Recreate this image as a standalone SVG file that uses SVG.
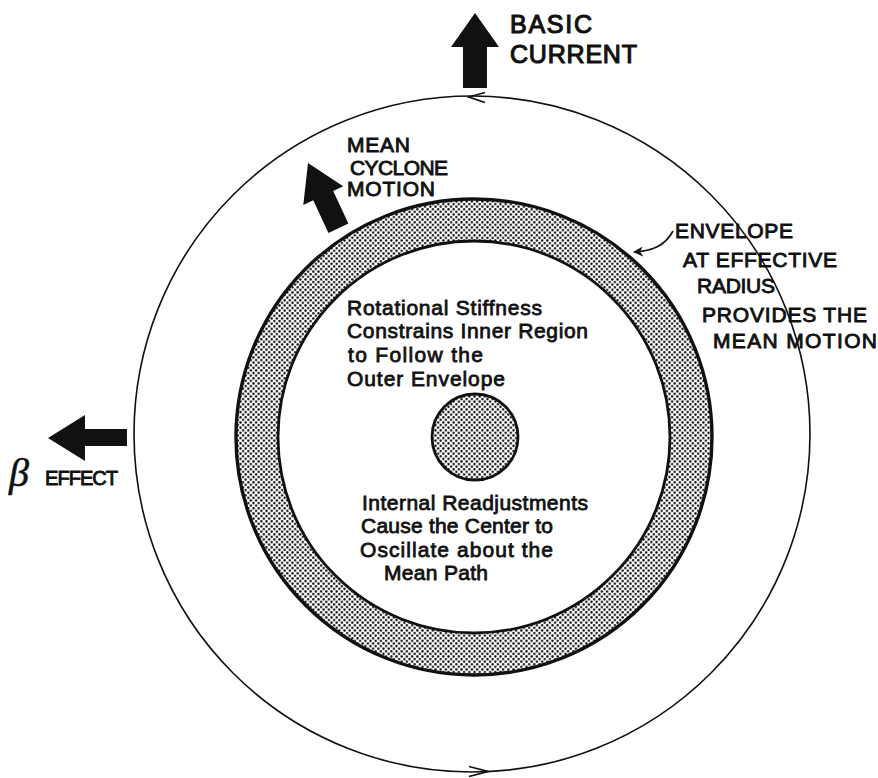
<svg xmlns="http://www.w3.org/2000/svg" width="878" height="778" viewBox="0 0 878 778">
<defs>
<pattern id="dots" width="5.2" height="5.2" patternUnits="userSpaceOnUse">
<rect width="5.2" height="5.2" fill="#fff"/>
<circle cx="1.3" cy="1.3" r="1.2" fill="#111"/>
<circle cx="3.9" cy="3.9" r="1.2" fill="#111"/>
</pattern>
<marker id="lead" viewBox="0 0 10 10" refX="9" refY="5" markerWidth="10" markerHeight="10" orient="auto" markerUnits="userSpaceOnUse">
<path d="M0,0 L10,5 L0,10 L3,5 Z" fill="#111"/>
</marker>
<style>
.cap{font-family:"Liberation Sans",Arial,sans-serif;font-size:21px;fill:#111;stroke:#111;stroke-width:0.9}
.big{font-size:25px;stroke-width:1.1}
.body{font-family:"Liberation Sans",Arial,sans-serif;font-size:21px;fill:#111;stroke:#111;stroke-width:0.8}
.line{fill:none;stroke:#111}
.blk{fill:#111}
</style>
</defs>
<rect width="878" height="778" fill="#fff"/>

<g id="outer-circle">
<circle class="line" cx="472" cy="434" r="338" stroke-width="1.6"/>
<polyline class="line" points="485,92.5 469,97 485,102.5" stroke-width="1.8"/>
<polyline class="line" points="469,766.5 488,771.5 469,776.5" stroke-width="1.8"/>
</g>

<g id="envelope-ring">
<path d="M236,437 a238,238 0 1,0 476,0 a238,238 0 1,0 -476,0 Z M278,437 a196,196 0 1,0 392,0 a196,196 0 1,0 -392,0 Z" fill="url(#dots)" fill-rule="evenodd"/>
<circle class="line" cx="474" cy="437" r="238" stroke-width="3.4"/>
<circle class="line" cx="474" cy="437" r="196" stroke-width="2.8"/>
</g>

<g id="center">
<circle cx="475" cy="437" r="43" fill="url(#dots)" stroke="#111" stroke-width="2.8"/>
</g>

<g id="basic-current">
<polygon class="blk" points="475,13 499,47 487,47 487,88 463,88 463,47 451,47"/>
<text class="cap big" x="510" y="33" textLength="82">BASIC</text>
<text class="cap big" x="510" y="63" textLength="127">CURRENT</text>
</g>

<g id="mean-cyclone-motion">
<polygon class="blk" transform="translate(308,163) rotate(-25)" points="0,0 22,36 11,36 11,72 -11,72 -11,36 -22,36"/>
<text class="cap" x="347" y="152" textLength="63">MEAN</text>
<text class="cap" x="350" y="175" textLength="98">CYCLONE</text>
<text class="cap" x="347" y="196" textLength="88">MOTION</text>
</g>

<g id="beta-effect">
<polygon class="blk" points="48,438 85,415 85,429 127,429 127,446 85,446 85,461"/>
<text x="9" y="486" font-family="'Liberation Serif','Times New Roman',serif" font-style="italic" font-size="40" fill="#111" stroke="#111" stroke-width="0.6">β</text>
<text class="cap" x="45" y="485" textLength="73" style="font-size:20px">EFFECT</text>
</g>

<g id="envelope-label">
<text class="cap" x="675" y="238" textLength="118">ENVELOPE</text>
<text class="cap" x="683" y="267" textLength="154">AT EFFECTIVE</text>
<text class="cap" x="697" y="293" textLength="78">RADIUS</text>
<text class="cap" x="702" y="322" textLength="165">PROVIDES THE</text>
<text class="cap" x="713" y="348" textLength="164">MEAN MOTION</text>
</g>

<g id="inner-text">
<text class="body" x="347" y="315" textLength="195">Rotational Stiffness</text>
<text class="body" x="347" y="338" textLength="241">Constrains Inner Region</text>
<text class="body" x="348" y="362" textLength="135">to Follow the</text>
<text class="body" x="347" y="386" textLength="158">Outer Envelope</text>
</g>

<g id="outer-text">
<text class="body" x="362" y="510" textLength="226">Internal Readjustments</text>
<text class="body" x="361" y="533" textLength="192">Cause the Center to</text>
<text class="body" x="360" y="557" textLength="193">Oscillate about the</text>
<text class="body" x="384" y="580" textLength="104">Mean Path</text>
</g>

<g id="connectors">
<path class="line" d="M673,231 C665,246 652,251 634,252" stroke-width="1.6" marker-end="url(#lead)"/>
</g>
</svg>
